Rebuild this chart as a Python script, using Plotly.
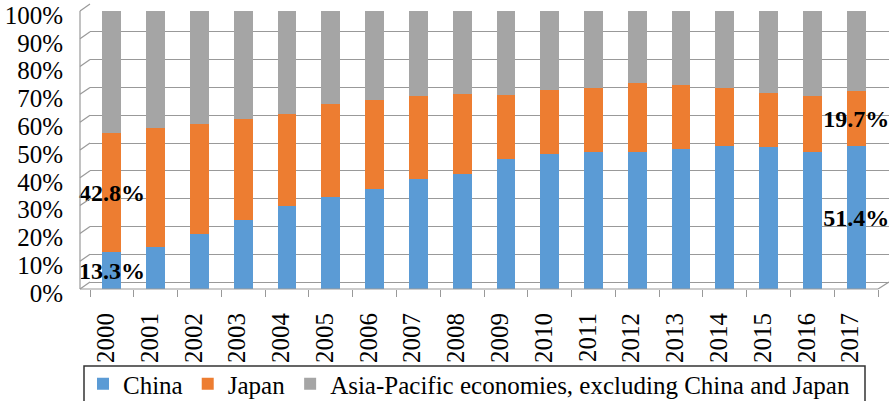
import plotly.graph_objects as go

# Share of trade by partner, 2000-2017 (percent of total)
years = [str(y) for y in range(2000, 2018)]
china = [13.3, 15.2, 19.9, 24.9, 30.0, 33.2, 36.1, 39.7, 41.2, 46.6,
         48.4, 49.1, 49.1, 50.2, 51.3, 50.9, 49.1, 51.4]
japan = [42.8, 42.6, 39.3, 36.1, 32.8, 33.2, 31.8, 29.6, 28.8, 23.1,
         23.1, 23.1, 24.9, 23.1, 20.9, 19.5, 20.2, 19.7]
others = [43.9, 42.2, 40.8, 39.0, 37.2, 33.6, 32.1, 30.7, 30.0, 30.3,
          28.5, 27.8, 26.0, 26.7, 27.8, 29.6, 30.7, 28.9]
y_ticks = list(range(0, 101, 10))
y_tick_text = [f"{v}%" for v in y_ticks]

series = [
    ("China", china, "#5B9BD5"),
    ("Japan", japan, "#ED7D31"),
    ("Asia-Pacific economies, excluding China and Japan", others, "#A5A5A5"),
]
labelled = {"China", "Japan"}

W, H = 890, 401
L, R, T, B = 90, 1, 4, 112
plot_w = W - L - R
plot_h = H - T - B
Y_TOP = 102.5          # bar axis: 0..100 occupies the lower part of the frame
DEPTH = 2.5            # back wall offset (in axis units) for the 3-D look
X_MAX = len(years) - 0.5
X_EXTRA = 0.25         # room for the back wall beyond the last category

SERIF = "Liberation Serif, Times New Roman, serif"
FS = 25
GRID = "#999999"

fig = go.Figure()
for name, vals, color in series:
    last = len(vals) - 1
    text = [f"{v:.1f}%" if (name in labelled and i in (0, last)) else ""
            for i, v in enumerate(vals)]
    fig.add_trace(go.Bar(
        x=years, y=vals, name=name,
        marker=dict(color=color, line=dict(width=0)),
        width=0.43,
        text=text, textposition="inside", textangle=0,
        constraintext="none", insidetextanchor="middle",
        insidetextfont=dict(family=SERIF, size=24, color="black", weight="bold"),
        cliponaxis=False,
        hoverinfo="skip",
    ))

# gridlines drawn on the back wall, slightly above the bar scale
fig.add_trace(go.Scatter(x=[years[0]], y=[0], yaxis="y2", mode="markers",
                         marker=dict(opacity=0), showlegend=False,
                         hoverinfo="skip"))

def px_x(p):
    return (p - L) / plot_w

def py(v):
    return v / Y_TOP

shapes = []
side_x0 = px_x(80)
# left side wall: front edge plus a diagonal per gridline
for v in y_ticks:
    shapes.append(dict(type="line", xref="paper", yref="paper",
                       x0=side_x0, y0=py(v), x1=0, y1=py(v + DEPTH),
                       line=dict(color=GRID, width=1.2)))
shapes.append(dict(type="line", xref="paper", yref="paper",
                   x0=side_x0, y0=py(0), x1=side_x0, y1=py(100),
                   line=dict(color=GRID, width=1.2)))
# front edge of the floor and its right-hand corner
shapes.append(dict(type="line", xref="paper", yref="paper",
                   x0=side_x0, y0=py(0),
                   x1=(X_MAX + 0.5) / (X_MAX + X_EXTRA + 0.5), y1=py(0),
                   line=dict(color=GRID, width=1.2)))
shapes.append(dict(type="line", xref="x", yref="paper",
                   x0=X_MAX, y0=py(0), x1=X_MAX + X_EXTRA, y1=py(DEPTH),
                   line=dict(color=GRID, width=1.2)))
# legend frame
shapes.append(dict(type="rect", xref="paper", yref="paper",
                   x0=px_x(84), x1=px_x(865),
                   y0=-(366 - (T + plot_h)) / plot_h,
                   y1=-(406 - (T + plot_h)) / plot_h,
                   line=dict(color="#333333", width=1.5)))

fig.update_layout(
    width=W, height=H,
    margin=dict(l=L, r=R, t=T, b=B, autoexpand=False),
    paper_bgcolor="white", plot_bgcolor="white",
    barmode="stack", bargap=0.57,
    font=dict(family=SERIF, size=FS, color="black"),
    shapes=shapes,
    showlegend=True,
    legend=dict(orientation="h", xref="container", yref="container",
                x=83 / W, y=1 - 384 / H, xanchor="left", yanchor="middle",
                font=dict(family=SERIF, size=FS, color="black"),
                bgcolor="rgba(0,0,0,0)", traceorder="normal"),
    xaxis=dict(type="category", range=[-0.5, X_MAX + X_EXTRA],
               showgrid=False, showline=False,
               ticks="outside", tickson="boundaries", ticklen=7,
               tickcolor=GRID, tickwidth=1.2,
               tickangle=-90, ticklabelshift=-6, ticklabelstandoff=18,
               tickfont=dict(family=SERIF, size=FS, color="black")),
    yaxis=dict(range=[0, Y_TOP], showgrid=False, zeroline=False,
               tickvals=y_ticks, ticktext=y_tick_text,
               ticklabelshift=4, ticklabelstandoff=26,
               ticklabeloverflow="allow",
               tickfont=dict(family=SERIF, size=FS, color="black")),
    yaxis2=dict(range=[-DEPTH, Y_TOP - DEPTH], overlaying="y", side="left",
                showgrid=True, gridcolor=GRID, gridwidth=1.2,
                zeroline=False, tickvals=y_ticks, showticklabels=False),
)

fig.write_html("out.html")
